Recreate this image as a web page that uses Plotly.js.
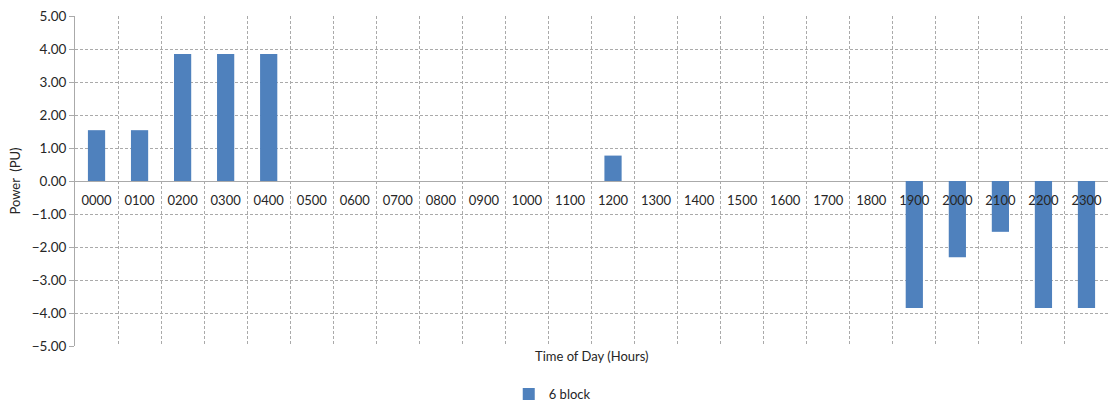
<!DOCTYPE html>
<html>
<head>
<meta charset="utf-8">
<script src="https://cdn.plot.ly/plotly-3.0.1.min.js"></script>
<style>html,body{margin:0;padding:0;background:#fff;}#chart{width:1120px;height:403px;}</style>
</head>
<body>
<div id="chart"></div>
<script>
const hours = ["0000","0100","0200","0300","0400","0500","0600","0700","0800","0900","1000","1100","1200","1300","1400","1500","1600","1700","1800","1900","2000","2100","2200","2300"];
const power6Block = [1.54,1.54,3.85,3.85,3.85,0,0,0,0,0,0,0,0.77,0,0,0,0,0,0,-3.85,-2.31,-1.54,-3.85,-3.85];
const seriesName = "6 block";
const yTicks = [-5,-4,-3,-2,-1,0,1,2,3,4,5];

const FONT = "Lato, 'Open Sans', sans-serif";
const GRID = "#aaaaaa";
const DASH = "3px,2px";

const trace = {
  type: "bar",
  x: hours,
  y: power6Block,
  name: seriesName,
  marker: {color: "#4F81BD"},
  width: 0.4,
  showlegend: true
};

const layout = {
  width: 1120, height: 403,
  margin: {l: 75, r: 12, t: 16, b: 57},
  paper_bgcolor: "#fff", plot_bgcolor: "#fff",
  font: {family: FONT, size: 13, color: "#262626"},
  xaxis: {
    type: "category",
    categoryorder: "array", categoryarray: hours,
    anchor: "free", position: 0.5,
    tickson: "boundaries",
    ticks: "",
    ticklabelstandoff: 10,
    showgrid: true, gridcolor: GRID, griddash: DASH, gridwidth: 1,
    showline: false,
    automargin: false,
    tickfont: {family: FONT, size: 13, color: "#262626"},
    fixedrange: true
  },
  yaxis: {
    range: [-5, 5],
    tickvals: yTicks,
    tickformat: ".2f",
    ticks: "outside", ticklen: 5, tickcolor: GRID,
    showgrid: true, gridcolor: GRID, griddash: DASH, gridwidth: 1,
    showline: true, linecolor: GRID, linewidth: 1,
    zeroline: true, zerolinecolor: GRID, zerolinewidth: 1,
    automargin: false,
    tickfont: {family: FONT, size: 13.5, color: "#262626"},
    title: {text: "Power  (PU)", font: {family: FONT, size: 13, color: "#262626"}, standoff: 8},
    fixedrange: true
  },
  legend: {
    orientation: "h", xref: "paper", x: 0.462, xanchor: "center",
    yref: "container", y: 0.022, yanchor: "middle",
    font: {family: FONT, size: 13, color: "#262626"},
    itemwidth: 30
  },
  annotations: [{
    text: "Time of Day (Hours)",
    xref: "paper", yref: "paper", x: 0.5, y: -0.03, xanchor: "center", yanchor: "middle",
    showarrow: false, font: {family: FONT, size: 13, color: "#262626"}
  }]
};

Plotly.newPlot("chart", [trace], layout, {displayModeBar: false, staticPlot: true});
</script>
</body>
</html>
